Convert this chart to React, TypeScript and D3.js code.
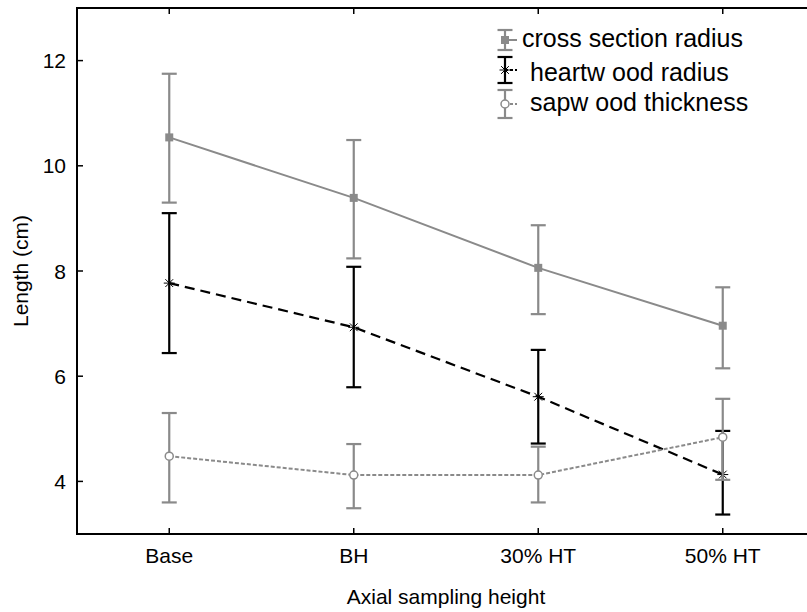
import React from "react";
import * as d3 from "d3";

const categories = ["Base", "BH", "30% HT", "50% HT"];
const yTicks = [4, 6, 8, 10, 12];

const crossMean = [10.54, 9.39, 8.06, 6.96];
const crossUpper = [11.75, 10.49, 8.87, 7.69];
const crossLower = [9.3, 8.24, 7.18, 6.15];

const heartMean = [7.77, 6.93, 5.61, 4.13];
const heartUpper = [9.1, 8.08, 6.5, 4.96];
const heartLower = [6.44, 5.79, 4.72, 3.37];

const sapMean = [4.48, 4.12, 4.12, 4.84];
const sapUpper = [5.3, 4.71, 4.66, 5.57];
const sapLower = [3.6, 3.49, 3.6, 4.03];

const legendLabels = ["cross section radius", "heartw ood radius", "sapw ood thickness"];

const W = 807;
const H = 612;
const left = 77;
const top = 8;
const bottom = 534;
const rightExt = 815;
const GRAY = "#8a8a8a";
const FONT = "'Liberation Sans', Arial, sans-serif";

const x = d3.scalePoint<string>().domain(categories).range([left, rightExt]).padding(0.5);
const y = d3.scaleLinear().domain([3, 13]).range([bottom, top]);

type Series = {
  mean: number[];
  upper: number[];
  lower: number[];
  color: string;
  dash: string;
  width: number;
  marker: "square" | "star" | "circle";
};

const series: Series[] = [
  { mean: crossMean, upper: crossUpper, lower: crossLower, color: GRAY, dash: "", width: 2, marker: "square" },
  { mean: heartMean, upper: heartUpper, lower: heartLower, color: "#000", dash: "10,6", width: 2.2, marker: "star" },
  { mean: sapMean, upper: sapUpper, lower: sapLower, color: GRAY, dash: "4,2", width: 2, marker: "circle" },
];

function Marker({ kind, cx, cy, color }: { kind: string; cx: number; cy: number; color: string }) {
  if (kind === "square") return <rect x={cx - 4} y={cy - 4} width={8} height={8} fill={color} />;
  if (kind === "circle")
    return <circle cx={cx} cy={cy} r={4} fill="white" stroke={color} strokeWidth={1.5} />;
  const r = 5.5;
  const lines = [0, 45, 90, 135].map((a) => {
    const rad = (a * Math.PI) / 180;
    return (
      <line
        key={a}
        x1={cx - r * Math.cos(rad)}
        y1={cy - r * Math.sin(rad)}
        x2={cx + r * Math.cos(rad)}
        y2={cy + r * Math.sin(rad)}
        stroke={color}
        strokeWidth={1}
      />
    );
  });
  return <g>{lines}</g>;
}

function ErrBar({ cx, y1, y2, color, cap }: { cx: number; y1: number; y2: number; color: string; cap: number }) {
  return (
    <g stroke={color} strokeWidth={2.2}>
      <line x1={cx} x2={cx} y1={y1} y2={y2} />
      <line x1={cx - cap} x2={cx + cap} y1={y1} y2={y1} />
      <line x1={cx - cap} x2={cx + cap} y1={y2} y2={y2} />
    </g>
  );
}

export default function App() {
  const line = d3
    .line<number>()
    .x((_, i) => x(categories[i]) as number)
    .y((d) => y(d));

  const legendRows = [
    { baseline: 47, cy: 40, half: 10, tx: 522 },
    { baseline: 81, cy: 70, half: 13, tx: 530 },
    { baseline: 111, cy: 104, half: 14, tx: 530 },
  ];

  return (
    <svg
      width={W}
      height={H}
      style={{ position: "absolute", left: 0, top: 0, background: "white" }}
      fontFamily={FONT}
    >
      <rect width={W} height={H} fill="white" />
      {series.map((s, si) => (
        <g key={si}>
          <path d={line(s.mean) || ""} fill="none" stroke={s.color} strokeWidth={s.width} strokeDasharray={s.dash} />
          {s.mean.map((m, i) => {
            const cx = x(categories[i]) as number;
            return (
              <g key={i}>
                <ErrBar cx={cx} y1={y(s.upper[i])} y2={y(s.lower[i])} color={s.color} cap={7.5} />
                <Marker kind={s.marker} cx={cx} cy={y(m)} color={s.color} />
              </g>
            );
          })}
        </g>
      ))}

      {/* axes */}
      <g stroke="#000" strokeWidth={2}>
        <line x1={left} x2={left} y1={top - 1} y2={bottom + 1} />
        <line x1={left - 1} x2={W} y1={bottom} y2={bottom} />
        <line x1={left - 1} x2={W} y1={top} y2={top} />
      </g>
      {yTicks.map((t) => (
        <g key={t}>
          <line x1={left} x2={left + 6} y1={y(t)} y2={y(t)} stroke="#000" strokeWidth={1.5} />
          <text x={66} y={y(t)} dy="0.36em" textAnchor="end" fontSize={21}>
            {t}
          </text>
        </g>
      ))}
      {categories.map((c) => {
        const cx = x(c) as number;
        return (
          <g key={c}>
            <line x1={cx} x2={cx} y1={bottom} y2={bottom - 6} stroke="#000" strokeWidth={1.5} />
            <line x1={cx} x2={cx} y1={top} y2={top + 6} stroke="#000" strokeWidth={1.5} />
            <text x={cx} y={563} textAnchor="middle" fontSize={21}>
              {c}
            </text>
          </g>
        );
      })}
      <text x={446} y={604} textAnchor="middle" fontSize={21}>
        Axial sampling height
      </text>
      <text transform="translate(28,271) rotate(-90)" textAnchor="middle" fontSize={21}>
        Length (cm)
      </text>

      {/* legend */}
      {series.map((s, i) => {
        const row = legendRows[i];
        const cy = row.cy;
        const cx = 505;
        return (
          <g key={i}>
            <line x1={cx} x2={cx + 12} y1={cy} y2={cy} stroke={s.color} strokeWidth={s.width} strokeDasharray={s.dash ? "3,2" : ""} />
            <ErrBar cx={cx} y1={cy - row.half} y2={cy + row.half} color={s.color} cap={7.5} />
            <Marker kind={s.marker} cx={cx} cy={cy} color={s.color} />
            <text x={row.tx} y={row.baseline} fontSize={25}>
              {legendLabels[i]}
            </text>
          </g>
        );
      })}
    </svg>
  );
}
